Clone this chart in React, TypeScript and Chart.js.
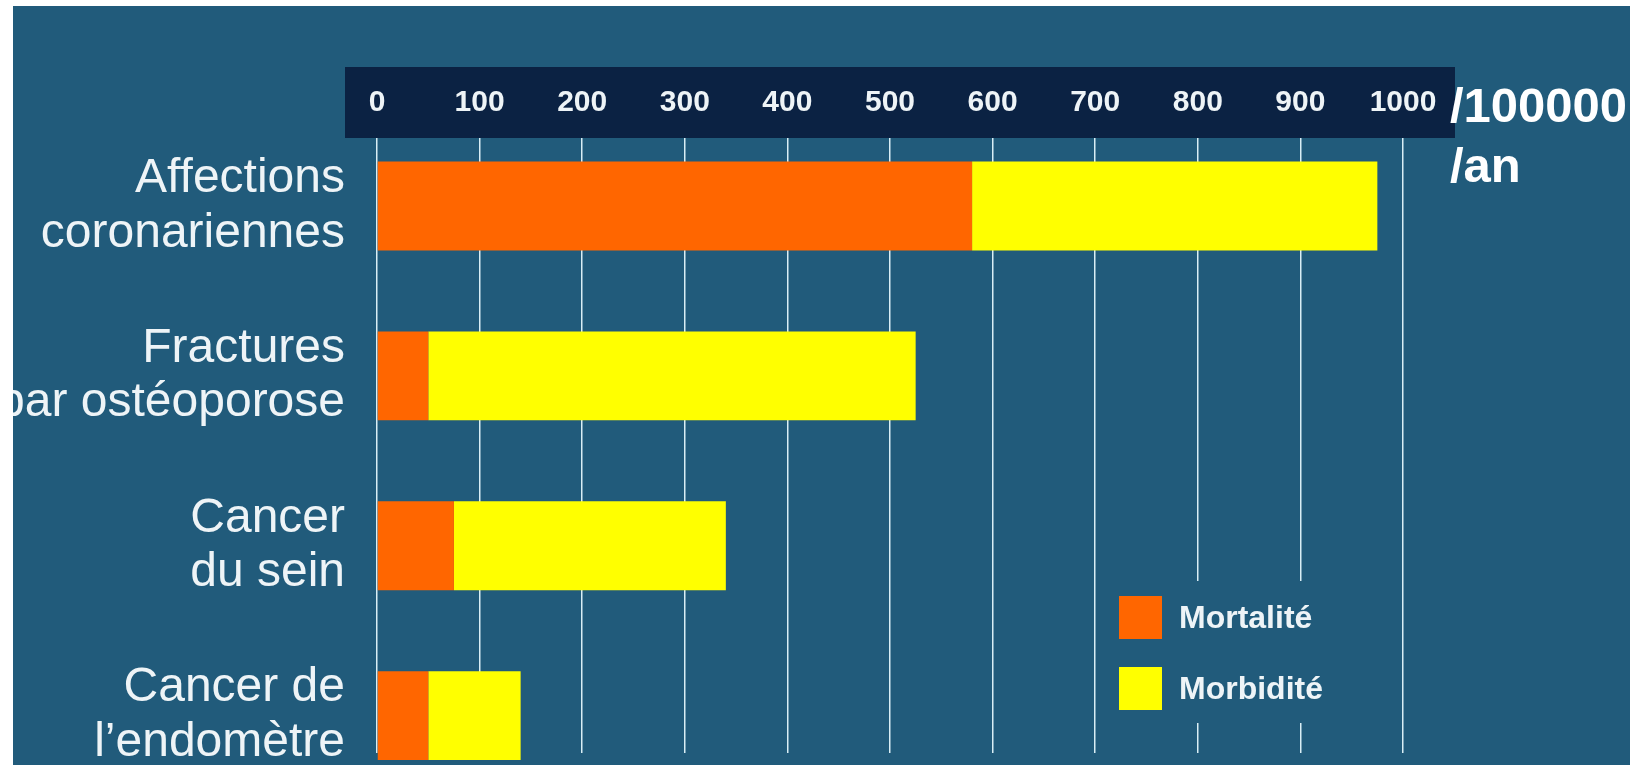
import React, { useEffect, useRef } from 'react';
import { Chart, registerables } from 'chart.js';

Chart.register(...registerables);

// ---- Data ----
const categories: string[][] = [
  ['Affections', 'coronariennes'],
  ['Fractures', 'par ostéoporose'],
  ['Cancer', 'du sein'],
  ['Cancer de', 'l’endomètre'],
];
const seriesLabels = ['Mortalité', 'Morbidité'];
const mortalite = [580, 50, 75, 50];
const morbidite = [395, 475, 265, 90];
const xTickValues = [0, 100, 200, 300, 400, 500, 600, 700, 800, 900, 1000];
const unitLines = ['/100000', '/an'];

// ---- Styles ----
const BG = '#215b7b';
const BAND = '#0b2243';
const ORANGE = '#ff6600';
const YELLOW = '#ffff00';
const GRID = 'rgba(228,247,252,0.95)';
const TEXT = '#eef4f7';
const FONT = '"Liberation Sans", Arial, Helvetica, sans-serif';

const W = 1617;
const H = 759;

const bandPlugin = {
  id: 'band',
  beforeDraw(chart: any) {
    const { ctx, chartArea } = chart;
    ctx.save();
    ctx.fillStyle = BAND;
    const left = chartArea.left - 32;
    const right = chartArea.right + 52;
    ctx.fillRect(left, chartArea.top - 71, right - left, 71);
    ctx.restore();
  },
  afterDraw(chart: any) {
    const { ctx, chartArea } = chart;
    ctx.save();
    ctx.fillStyle = '#ffffff';
    ctx.font = `bold 49px ${FONT}`;
    ctx.textAlign = 'left';
    ctx.textBaseline = 'alphabetic';
    const x = chartArea.right + 47;
    ctx.fillText(unitLines[0], x, chartArea.top - 16);
    ctx.fillText(unitLines[1], x, chartArea.top + 44);
    ctx.restore();
  },
};

const legendPlugin = {
  id: 'customLegend',
  afterDraw(chart: any) {
    const { ctx, chartArea } = chart;
    const boxLeft = chartArea.right - 295;
    const boxTop = 575;
    ctx.save();
    ctx.fillStyle = BG;
    ctx.fillRect(boxLeft, boxTop, 237, 142);
    chart.data.datasets.forEach((ds: any, i: number) => {
      const sx = chartArea.right - 284;
      const sy = 590 + i * 71;
      ctx.fillStyle = ds.backgroundColor;
      ctx.fillRect(sx, sy, 43, 43);
      ctx.fillStyle = TEXT;
      ctx.font = `bold 32px ${FONT}`;
      ctx.textAlign = 'left';
      ctx.textBaseline = 'middle';
      ctx.fillText(ds.label, sx + 60, sy + 23);
    });
    ctx.restore();
  },
};

export default function App() {
  const canvasRef = useRef<HTMLCanvasElement | null>(null);

  useEffect(() => {
    if (!canvasRef.current) return;
    const chart = new Chart(canvasRef.current, {
      type: 'bar',
      data: {
        datasets: [
          {
            label: seriesLabels[0],
            data: mortalite.map((v, i) => ({ x: v, y: i })),
            backgroundColor: ORANGE,
            borderWidth: 0,
            barPercentage: 0.523,
            categoryPercentage: 1,
            clip: false,
          },
          {
            label: seriesLabels[1],
            data: morbidite.map((v, i) => ({ x: v, y: i })),
            backgroundColor: YELLOW,
            borderWidth: 0,
            barPercentage: 0.523,
            categoryPercentage: 1,
            clip: false,
          },
        ] as any,
      },
      options: {
        indexAxis: 'y',
        responsive: false,
        animation: false,
        layout: { padding: { left: 0, right: 227, top: 0, bottom: 12 } },
        plugins: {
          legend: { display: false },
          tooltip: { enabled: false },
        },
        scales: {
          x: {
            type: 'linear',
            position: 'top',
            stacked: true,
            offset: false,
            min: 0,
            max: 1000,
            afterBuildTicks: (s: any) => {
              s.ticks = xTickValues.map((v) => ({ value: v }));
            },
            afterFit: (s: any) => {
              s.height = 132;
              s.paddingLeft = 0;
              s.paddingRight = 0;
            },
            ticks: {
              color: TEXT,
              padding: 17,
              maxRotation: 0,
              autoSkip: false,
              callback: (v: any) => String(v),
              font: { family: FONT, size: 30, weight: 'bold', lineHeight: 1.2 },
            },
            grid: { color: GRID, lineWidth: 1.5, drawTicks: false, offset: false },
            border: { display: false },
          },
          y: {
            type: 'linear',
            reverse: true,
            stacked: true,
            offset: false,
            bounds: 'data',
            grace: 0,
            beginAtZero: false,
            min: -0.4,
            max: 3.22,
            afterBuildTicks: (s: any) => {
              s.ticks = categories.map((_, i) => ({ value: i }));
            },
            afterFit: (s: any) => {
              s.width = 364;
              s.paddingTop = 0;
              s.paddingBottom = 0;
            },
            ticks: {
              color: TEXT,
              padding: 32,
              autoSkip: false,
              includeBounds: false,
              callback: (v: any) => categories[Math.round(Number(v))],
              font: { family: FONT, size: 48, lineHeight: 1.14 },
            },
            grid: { display: false, drawTicks: false, offset: false },
            border: { display: false },
          },
        },
      } as any,
      plugins: [bandPlugin, legendPlugin],
    });
    return () => chart.destroy();
  }, []);

  return (
    <div
      style={{
        position: 'fixed',
        left: 13,
        top: 6,
        width: W,
        height: H,
        background: BG,
        overflow: 'hidden',
      }}
    >
      <canvas ref={canvasRef} width={W} height={H} style={{ display: 'block' }} />
    </div>
  );
}
